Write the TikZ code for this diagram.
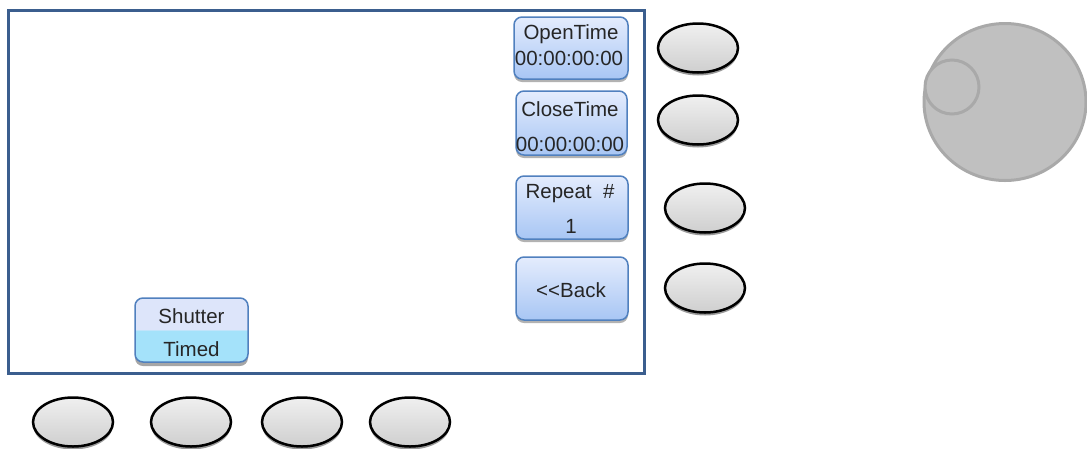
\documentclass[tikz,border=0pt]{standalone}
\usepackage{fontspec}
\setmainfont{Liberation Sans}
\usetikzlibrary{shadows,shapes.geometric}
\definecolor{scr}{HTML}{3B5E8E}
\definecolor{btnb}{HTML}{5080BE}
\definecolor{btntop}{HTML}{E4ECFD}
\definecolor{btnbot}{HTML}{A8C6F4}
\definecolor{lav}{HTML}{DDE5FA}
\definecolor{cyn}{HTML}{A4E2FA}
\definecolor{txt}{HTML}{262626}
\definecolor{knobf}{HTML}{C0C0C0}
\definecolor{knobb}{HTML}{A9A9A9}
\pgfdeclareverticalshading{shut}{100bp}{color(0bp)=(cyn); color(49.9bp)=(cyn); color(50bp)=(lav); color(100bp)=(lav)}
\tikzset{
  btn/.style={draw=btnb, line width=1.5pt, rounded corners=8pt, top color=btntop, bottom color=btnbot,
    minimum width=112pt, minimum height=62pt, inner sep=0pt,
    drop shadow={shadow xshift=0pt, shadow yshift=-3pt, opacity=0.3, fill=black}},
  lbl/.style={text=txt, font=\fontsize{20.5}{24}\selectfont, inner sep=0pt, anchor=base},
  ell/.style={ellipse, draw=black, line width=2.5pt, top color=gray!12, bottom color=gray!38,
    minimum width=80pt, minimum height=49pt, inner sep=0pt,
    drop shadow={shadow xshift=0pt, shadow yshift=-3pt, opacity=0.4, fill=black}},
}
\begin{document}
\begin{tikzpicture}[x=1pt,y=-1pt]
\useasboundingbox (0,0) rectangle (1087,448);
% Shutter button (under the screen border)
\node[draw=btnb, line width=1.5pt, rounded corners=8pt, shading=shut, minimum width=113pt, minimum height=64pt,
  drop shadow={shadow xshift=0pt, shadow yshift=-4pt, opacity=0.35, fill=black}] (shutter) at (191.5,330) {};
\node[lbl] (shuttert) at (191.5,323) {Shutter};
\node[lbl] (timedt) at (191.5,356) {Timed};
% screen
\node[draw=scr, line width=3pt, minimum width=636pt, minimum height=363pt, inner sep=0pt] (screen) at (326,191.5) {};
% right buttons
\node[btn, minimum width=114pt] (open) at (571,48) {};
\node[lbl] (opent) at (571,39) {OpenTime};
\node[lbl] (opentime) at (569,65) {00:00:00:00};
\node[btn, minimum width=111pt, minimum height=64pt] (close) at (571.5,123) {};
\node[lbl] (closet) at (570,116) {CloseTime};
\node[lbl] (closetime) at (570,151) {00:00:00:00};
\node[btn, minimum height=63pt] (repeat) at (572,207.5) {};
\node[lbl] (repeatt) at (570,198) {Repeat \ \#};
\node[lbl] (repeatn) at (571,233) {1};
\node[btn, minimum height=63pt] (back) at (572,288.5) {};
\node[lbl] (backt) at (571,297) {{<}{<}Back};
% side soft keys
\node[ell] (k1) at (698,48) {};
\node[ell] (k2) at (698,120) {};
\node[ell] (k3) at (705,208) {};
\node[ell] (k4) at (705,288) {};
% bottom soft keys
\node[ell] (b1) at (73,422) {};
\node[ell] (b2) at (191,422) {};
\node[ell] (b3) at (302,422) {};
\node[ell] (b4) at (410,422) {};
% knob
\node[ellipse, draw=knobb, fill=knobf, line width=3pt, minimum width=162pt, minimum height=157pt, inner sep=0pt] (knob) at (1005,102) {};
\node[circle, draw=knobb, fill=knobf, line width=3pt, minimum size=54pt, inner sep=0pt] (knobsmall) at (952,87) {};
\end{tikzpicture}
\end{document}
